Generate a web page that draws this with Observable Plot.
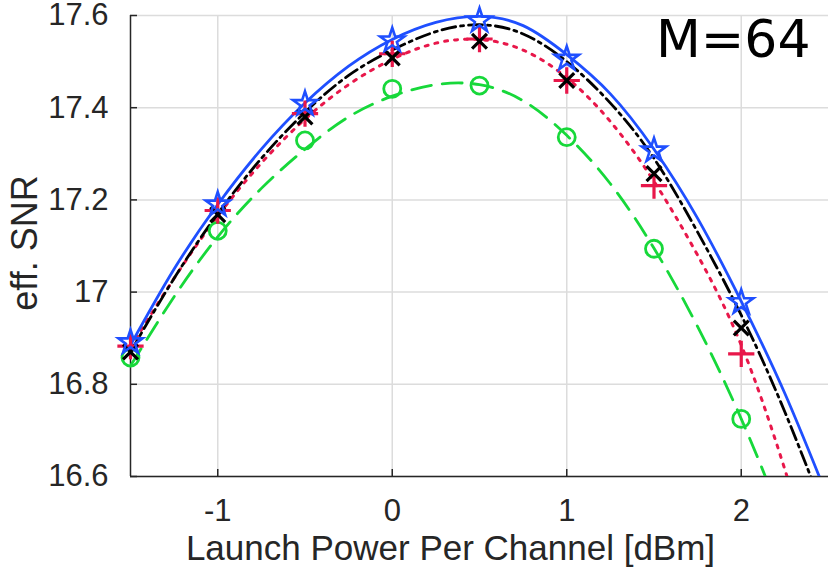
<!DOCTYPE html>
<html>
<head>
<meta charset="utf-8">
<script src="https://cdn.jsdelivr.net/npm/d3@7"></script>
<script src="https://cdn.jsdelivr.net/npm/@observablehq/plot@0.6"></script>
<style>
  html, body { margin: 0; padding: 0; background: #fff; }
</style>
</head>
<body>
<div id="chart"></div>
<script>
// Marker positions (launch power, dBm)
const xMarks = [-1.5, -1, -0.5, 0, 0.5, 1, 1.5, 2];
const starVals   = [16.891, 17.19, 17.408, 17.546, 17.589, 17.506, 17.307, 16.978];
const plusVals   = [16.883, 17.177, 17.387, 17.517, 17.549, 17.459, 17.231, 16.866];
const timesVals  = [16.870, 17.168, 17.380, 17.508, 17.544, 17.459, 17.257, 16.922];
const circleVals = [16.858, 17.133, 17.329, 17.441, 17.448, 17.336, 17.094, 16.725];

// Curve points
const xCurve = [-1.5, -1.25, -1, -0.75, -0.5, -0.25, 0, 0.25, 0.5, 0.75, 1, 1.25, 1.5, 1.75, 2, 2.25, 2.5];
const blueCurve  = [16.885, 17.05, 17.19, 17.31, 17.41, 17.49, 17.548, 17.585, 17.598, 17.578, 17.515, 17.43, 17.31, 17.16, 16.98, 16.78, 16.55];
const blackCurve = [16.87, 17.03, 17.17, 17.29, 17.39, 17.47, 17.525, 17.565, 17.58, 17.56, 17.50, 17.41, 17.29, 17.13, 16.95, 16.74, 16.50];
const redCurve   = [16.88, 17.03, 17.165, 17.28, 17.375, 17.45, 17.505, 17.54, 17.548, 17.525, 17.465, 17.37, 17.24, 17.08, 16.885, 16.615, 16.30];
const greenCurve = [16.84, 16.99, 17.12, 17.225, 17.31, 17.38, 17.425, 17.45, 17.45, 17.415, 17.34, 17.235, 17.095, 16.925, 16.725, 16.49, 16.22];

const xTicks = [-1, 0, 1, 2];
const yTicks = [16.6, 16.8, 17, 17.2, 17.4, 17.6];
const yTickLabels = ["16.6", "16.8", "17", "17.2", "17.4", "17.6"];
const xDomain = [-1.5, 2.5];
const yDomain = [16.6, 17.6];
const xLabel = "Launch Power Per Channel [dBm]";
const yLabel = "eff. SNR";
const annotation = "M=64";

const colors = { blue: "#1f4fff", black: "#000000", red: "#e8174a", green: "#17d83a" };

const pts = (xs, ys) => xs.map((x, i) => ({x, y: ys[i]}));

const lineOpts = (color, dash, width) => ({
  x: "x", y: "y", stroke: color, strokeWidth: width, curve: "natural",
  strokeDasharray: dash, clip: true
});

const chart = Plot.plot({
  width: 830,
  height: 569,
  marginLeft: 130,
  marginRight: 2,
  marginTop: 15,
  marginBottom: 93,
  style: { fontFamily: "'Liberation Sans', Arial, sans-serif", background: "#fff" },
  x: { domain: xDomain },
  y: { domain: yDomain },
  marks: [
    Plot.gridX(xTicks, { stroke: "#dcdcdc", strokeOpacity: 1, strokeWidth: 1.5 }),
    Plot.gridY(yTicks, { stroke: "#dcdcdc", strokeOpacity: 1, strokeWidth: 1.5 }),
    Plot.axisX(xTicks, {
      tickSize: -7, tickPadding: 29, fontSize: 31, stroke: "#262626", strokeWidth: 1.5,
      fill: "#262626", label: null, tickFormat: d => String(d)
    }),
    Plot.axisY(yTicks, {
      tickSize: -7, tickPadding: 29, fontSize: 31, stroke: "#262626", strokeWidth: 1.5,
      fill: "#262626", label: null, tickFormat: (d, i) => yTickLabels[i]
    }),
    Plot.ruleX([xDomain[0]], { stroke: "#262626", strokeWidth: 1.5 }),
    Plot.ruleY([yDomain[0]], { stroke: "#262626", strokeWidth: 1.5 }),

    // curves
    Plot.line(pts(xCurve, greenCurve), lineOpts(colors.green, "20,11", 2.8)),
    Plot.line(pts(xCurve, redCurve), lineOpts(colors.red, "3,7", 3)),
    Plot.line(pts(xCurve, blackCurve), lineOpts(colors.black, "14,5,3,5", 2.8)),
    Plot.line(pts(xCurve, blueCurve), lineOpts(colors.blue, null, 2.8)),

    // markers
    Plot.dot(pts(xMarks, circleVals), { x: "x", y: "y", symbol: "circle", r: 8.5, stroke: colors.green, strokeWidth: 2.8, fill: "none" }),
    Plot.dot(pts(xMarks, plusVals), { x: "x", y: "y", symbol: "plus", r: 8.5, stroke: colors.red, strokeWidth: 3.2, fill: "none" }),
    Plot.dot(pts(xMarks, timesVals), { x: "x", y: "y", symbol: "times", r: 6.8, stroke: colors.black, strokeWidth: 3.2, fill: "none" }),
    Plot.dot(pts(xMarks, starVals), { x: "x", y: "y", symbol: "star", r: 7.6, stroke: colors.blue, strokeWidth: 2.6, fill: "none" }),

    // labels
    Plot.text([xLabel], { frameAnchor: "bottom", dx: -29, dy: 72, lineAnchor: "middle", textAnchor: "middle", fontSize: 35, fill: "#262626", text: d => d }),
    Plot.text([yLabel], { frameAnchor: "left", dx: -105, dy: -3, rotate: -90, textAnchor: "middle", lineAnchor: "middle", fontSize: 36, fill: "#262626", text: d => d }),
    Plot.text([annotation], {
      frameAnchor: "top-right", dx: -18, dy: 5, textAnchor: "end", lineAnchor: "top", fontSize: 52,
      fontFamily: "'DejaVu Sans', sans-serif", fill: "#000", text: d => d
    })
  ]
});
document.getElementById("chart").appendChild(chart);
</script>
</body>
</html>
